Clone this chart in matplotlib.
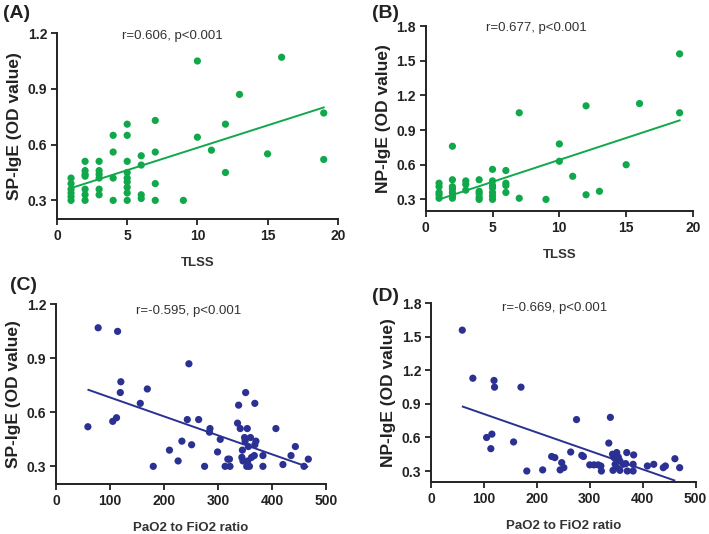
import matplotlib
matplotlib.use("Agg")
import matplotlib.pyplot as plt

plt.rcParams['font.family'] = ['Liberation Sans', 'DejaVu Sans']

GREEN = "#10a84a"
BLUE = "#2b3192"

# ---- (A) TLSS vs SP-IgE ----
tlss_a = [1]*6 + [2]*7 + [3]*6 + [4]*4 + [5]*9 + [6]*4 + [7]*4 + [9, 10, 10, 11, 12, 12, 13, 15, 16, 19, 19]
sp_a = [0.42, 0.39, 0.36, 0.34, 0.32, 0.30,
        0.51, 0.46, 0.44, 0.43, 0.36, 0.33, 0.30,
        0.51, 0.46, 0.44, 0.42, 0.36, 0.33,
        0.65, 0.56, 0.42, 0.30,
        0.71, 0.65, 0.51, 0.45, 0.42, 0.40, 0.37, 0.34, 0.30,
        0.54, 0.49, 0.33, 0.31,
        0.73, 0.56, 0.39, 0.30,
        0.30, 1.05, 0.64, 0.57, 0.71, 0.45, 0.87, 0.55, 1.07, 0.77, 0.52]
fit_a_x = [1, 19]
fit_a_y = [0.366, 0.80]

# ---- (B) TLSS vs NP-IgE ----
tlss_b = [1]*5 + [2]*7 + [3]*3 + [4]*5 + [5]*7 + [6]*4 + [7, 7, 9, 10, 10, 11, 12, 12, 13, 15, 16, 19, 19]
np_b = [0.44, 0.41, 0.36, 0.34, 0.31,
        0.76, 0.47, 0.41, 0.39, 0.36, 0.33, 0.31,
        0.46, 0.43, 0.38,
        0.47, 0.37, 0.35, 0.32, 0.30,
        0.56, 0.46, 0.42, 0.40, 0.36, 0.33, 0.30,
        0.55, 0.44, 0.42, 0.36,
        1.05, 0.31, 0.30, 0.78, 0.63, 0.50, 1.11, 0.34, 0.37, 0.60, 1.13, 1.56, 1.05]
fit_b_x = [1, 19]
fit_b_y = [0.30, 0.984]

# ---- (C) PaO2/FiO2 vs SP-IgE ----
pf_c = [78, 114, 59, 105, 112, 120, 119, 156, 169, 180, 210, 226, 233, 243, 246, 251,
        264, 275, 285, 284, 299, 304, 313, 318, 321, 322, 336, 338, 341, 345, 344, 346,
        349, 350, 351, 353, 354, 356, 355, 358, 360, 362, 368, 367, 368, 370, 383, 383,
        407, 420, 435, 443, 459, 467]
sp_c = [1.07, 1.05, 0.52, 0.55, 0.57, 0.77, 0.71, 0.65, 0.73, 0.30, 0.39, 0.33, 0.44, 0.56, 0.87, 0.42,
        0.56, 0.30, 0.51, 0.49, 0.38, 0.45, 0.30, 0.34, 0.34, 0.30, 0.54, 0.64, 0.51, 0.39, 0.35, 0.33,
        0.46, 0.44, 0.71, 0.30, 0.51, 0.41, 0.33, 0.30, 0.46, 0.35, 0.65, 0.36, 0.42, 0.44, 0.36, 0.30,
        0.51, 0.31, 0.36, 0.41, 0.30, 0.34]
fit_c_x = [60, 465]
fit_c_y = [0.725, 0.298]

# ---- (D) PaO2/FiO2 vs NP-IgE ----
pf_d = [59, 79, 119, 120, 170, 105, 115, 113, 156, 181, 211, 228, 234, 247, 244, 251,
        264, 275, 285, 288, 300, 308, 316, 321, 322, 336, 339,
        343, 351, 346, 354, 357, 348, 351, 344, 357, 363, 370, 368, 371, 383, 382, 382,
        409, 421, 439, 443, 461, 470]
np_d = [1.56, 1.13, 1.11, 1.05, 1.05, 0.60, 0.63, 0.50, 0.56, 0.30, 0.31, 0.43, 0.42, 0.375, 0.31, 0.33,
        0.47, 0.76, 0.44, 0.43, 0.355, 0.355, 0.355, 0.345, 0.30, 0.55, 0.78,
        0.45, 0.465, 0.42, 0.425, 0.39, 0.36, 0.33, 0.306, 0.306, 0.36, 0.465, 0.366, 0.30, 0.444, 0.36, 0.30,
        0.345, 0.36, 0.33, 0.345, 0.41, 0.33]
fit_d_x = [60, 460]
fit_d_y = [0.876, 0.216]

panels = [
    # rect, x, y, fit_x, fit_y, color, xlabel, ylabel, xlim, xticks, ylim, yticks, note, note_pos
    ([0.0804, 0.590, 0.396, 0.348], tlss_a, sp_a, fit_a_x, fit_a_y, GREEN, "TLSS", "SP-IgE (OD value)",
     (0, 20), [0, 5, 10, 15, 20], (0.2, 1.2), [0.3, 0.6, 0.9, 1.2], "r=0.606, p<0.001", (0.41, 0.984)),
    ([0.6004, 0.605, 0.377, 0.346], tlss_b, np_b, fit_b_x, fit_b_y, GREEN, "TLSS", "NP-IgE (OD value)",
     (0, 20), [0, 5, 10, 15, 20], (0.2, 1.8), [0.3, 0.6, 0.9, 1.2, 1.5, 1.8], "r=0.677, p<0.001", (0.415, 0.988)),
    ([0.079, 0.093, 0.381, 0.337], pf_c, sp_c, fit_c_x, fit_c_y, BLUE, "PaO2 to FiO2 ratio", "SP-IgE (OD value)",
     (0, 500), [0, 100, 200, 300, 400, 500], (0.2, 1.2), [0.3, 0.6, 0.9, 1.2], "r=-0.595, p<0.001", (0.49, 0.963)),
    ([0.608, 0.097, 0.373, 0.335], pf_d, np_d, fit_d_x, fit_d_y, BLUE, "PaO2 to FiO2 ratio", "NP-IgE (OD value)",
     (0, 500), [0, 100, 200, 300, 400, 500], (0.2, 1.8), [0.3, 0.6, 0.9, 1.2, 1.5, 1.8], "r=-0.669, p<0.001", (0.466, 0.972)),
]

letters = [("(A)", 0.004, 0.974), ("(B)", 0.524, 0.975), ("(C)", 0.014, 0.466), ("(D)", 0.524, 0.444)]

fig = plt.figure(figsize=(7.09, 5.34), dpi=100)

for rect, xs, ys, fx, fy, col, xl, yl, xlim, xt, ylim, yt, note, npos in panels:
    ax = fig.add_axes(rect)
    ax.scatter(xs, ys, s=27, color=col, edgecolors='none', zorder=3, clip_on=False)
    ax.plot(fx, fy, color=col, lw=1.4, zorder=2)
    ax.set_xlim(*xlim)
    ax.set_ylim(*ylim)
    ax.set_xticks(xt)
    ax.set_yticks(yt)
    ax.set_yticklabels(["%.1f" % v for v in yt])
    for s in ("top", "right"):
        ax.spines[s].set_visible(False)
    for s in ("left", "bottom"):
        ax.spines[s].set_linewidth(1.4)
        ax.spines[s].set_color("#222222")
    ax.tick_params(direction='out', length=4, width=1.3, colors="#222222", labelsize=10, pad=3)
    for lab in ax.get_xticklabels() + ax.get_yticklabels():
        lab.set_fontweight('bold')
    ax.set_xlabel(xl, fontsize=9.5, fontweight='bold', color="#333333", labelpad=10)
    ax.set_ylabel(yl, fontsize=12.5, fontweight='bold', color="#222222", labelpad=4)
    ax.text(npos[0], npos[1], note, transform=ax.transAxes, ha='center', va='center',
            fontsize=9.5, color="#333333")

for txt, x, y in letters:
    fig.text(x, y, txt, ha='left', va='center', fontsize=14, fontweight='bold', color="#222222")

fig.savefig("out.png", dpi=100)
